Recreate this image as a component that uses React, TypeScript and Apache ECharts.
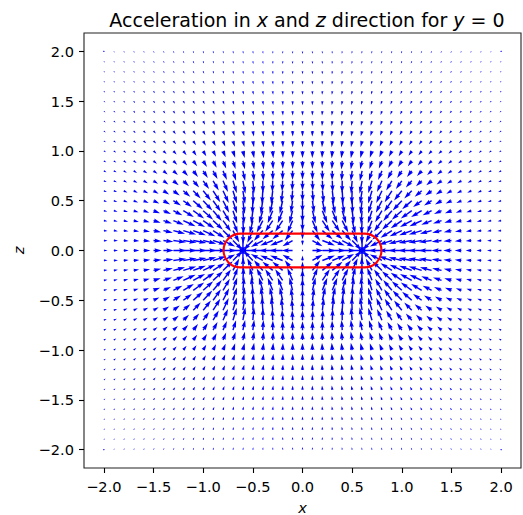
import React, { useEffect, useRef } from "react";
import * as echarts from "echarts";

// grid of sample points (x and z, step 0.1)
const xGrid = [-2.0, -1.9, -1.8, -1.7, -1.6, -1.5, -1.4, -1.3, -1.2, -1.1, -1.0, -0.9, -0.8, -0.7, -0.6, -0.5, -0.4, -0.3, -0.2, -0.1, 0.0, 0.1, 0.2, 0.3, 0.4, 0.5, 0.6, 0.7, 0.8, 0.9, 1.0, 1.1, 1.2, 1.3, 1.4, 1.5, 1.6, 1.7, 1.8, 1.9, 2.0];
const zGrid = [-2.0, -1.9, -1.8, -1.7, -1.6, -1.5, -1.4, -1.3, -1.2, -1.1, -1.0, -0.9, -0.8, -0.7, -0.6, -0.5, -0.4, -0.3, -0.2, -0.1, 0.0, 0.1, 0.2, 0.3, 0.4, 0.5, 0.6, 0.7, 0.8, 0.9, 1.0, 1.1, 1.2, 1.3, 1.4, 1.5, 1.6, 1.7, 1.8, 1.9, 2.0];

// attracting point masses (the two star centres)
const massX = [-0.6, 0.6];
const massZ = [0.0, 0.0];
const massGM = [1.0, 1.0];
const accelCap = 2.4; // magnitudes above this are drawn with the same length

// body outline (capsule): left, top, right, bottom
const capsule = [-0.795, 0.17, 0.795, -0.17];

const tickValues = [-2.0, -1.5, -1.0, -0.5, 0.0, 0.5, 1.0, 1.5, 2.0];

const FONT = "DejaVu Sans";

function buildField(): number[][] {
  const out: number[][] = [];
  for (const z of zGrid) {
    for (const x of xGrid) {
      let ax = 0;
      let az = 0;
      let singular = false;
      for (let k = 0; k < massX.length; k++) {
        const dx = massX[k] - x;
        const dz = massZ[k] - z;
        const r2 = dx * dx + dz * dz;
        if (r2 < 1e-12) {
          singular = true;
          break;
        }
        const r3 = Math.pow(r2, 1.5);
        ax += (massGM[k] * dx) / r3;
        az += (massGM[k] * dz) / r3;
      }
      if (singular) continue;
      out.push([x, z, ax, az]);
    }
  }
  return out;
}

const fmt = (v: number) => {
  const s = Math.abs(v) < 1e-9 ? "0.0" : v.toFixed(1);
  return s.replace("-", "\u2212");
};

export default function App() {
  const ref = useRef<HTMLDivElement>(null);
  useEffect(() => {
    if (!ref.current) return;
    const chart = echarts.init(ref.current, null, { renderer: "svg" });
    const field = buildField();
    const pxPerAccel = 5.6;
    const w = 1.45; // shaft width px
    const hl = 5, hal = 4.5, hw = 3;

    const arrowItem = (params: any, api: any) => {
      const x = api.value(0);
      const z = api.value(1);
      const ax = api.value(2);
      const az = api.value(3);
      const p = api.coord([x, z]);
      const mag = Math.hypot(ax, az);
      const Lpx = Math.min(mag, accelCap) * pxPerAccel;
      const L = Lpx / w;
      let X: number[];
      let Y: number[];
      if (L < 1) {
        X = [];
        Y = [];
        for (let i = 0; i < 6; i++) {
          const th = (i * Math.PI) / 3;
          X.push(Math.cos(th) * 0.5);
          Y.push(Math.sin(th) * 0.5);
        }
      } else if (L < hl) {
        const s = L / hl;
        const bx = [0, hl - hal, 0, hl, 0, hl - hal, 0];
        const by = [0.5, 0.5, hw / 2, 0, -hw / 2, -0.5, -0.5];
        X = bx.map((v) => v * s);
        Y = by.map((v) => v * s);
      } else {
        X = [0, L - hal, L - hl, L, L - hl, L - hal, 0];
        Y = [0.5, 0.5, hw / 2, 0, -hw / 2, -0.5, -0.5];
      }
      const ang = Math.atan2(-az, ax);
      const c = Math.cos(ang);
      const s2 = Math.sin(ang);
      const pts = X.map((xx, i) => {
        const yy = Y[i];
        return [p[0] + (xx * c - yy * s2) * w, p[1] + (xx * s2 + yy * c) * w];
      });
      return {
        type: "polygon",
        shape: { points: pts },
        style: { fill: "#0000ff", stroke: "none" },
      };
    };

    const capsuleItem = (params: any, api: any) => {
      const p1 = api.coord([api.value(0), api.value(1)]);
      const p2 = api.coord([api.value(2), api.value(3)]);
      const h = p2[1] - p1[1];
      return {
        type: "rect",
        shape: { x: p1[0], y: p1[1], width: p2[0] - p1[0], height: h, r: h / 2 },
        style: { fill: "none", stroke: "#ff0000", lineWidth: 2.1 },
      };
    };

    const tickStyle = {
      show: true,
      customValues: tickValues,
      length: 5,
      lineStyle: { color: "#000", width: 1.1 },
    };
    const labelStyle = {
      customValues: tickValues,
      formatter: fmt,
      fontFamily: FONT,
      fontSize: 14.6,
      color: "#000",
    };
    const nameStyle = {
      fontFamily: FONT,
      fontStyle: "italic" as const,
      fontSize: 14.6,
      color: "#000",
    };

    chart.setOption({
      animation: false,
      title: {
        text: "Acceleration in {i|x} and {i|z} direction for {i|y} = 0",
        left: 302,
        textAlign: "center",
        top: 5,
        textStyle: {
          fontFamily: FONT,
          fontSize: 19,
          fontWeight: "normal",
          color: "#000",
          rich: {
            i: { fontFamily: FONT, fontStyle: "italic", fontSize: 19, color: "#000" },
          },
        },
      },
      grid: {
        left: 84,
        top: 33,
        right: 2,
        bottom: 47,
        containLabel: false,
        outerBoundsMode: "none",
        show: true,
        borderColor: "#222",
        borderWidth: 1.1,
        backgroundColor: "transparent",
      },
      xAxis: {
        type: "value",
        min: -2.2,
        max: 2.2,
        splitLine: { show: false },
        axisLine: { show: false, onZero: false },
        axisTick: tickStyle,
        axisLabel: { ...labelStyle, margin: 11 },
        name: "x",
        nameLocation: "middle",
        nameGap: 32,
        nameTextStyle: nameStyle,
      },
      yAxis: {
        type: "value",
        min: -2.185,
        max: 2.185,
        splitLine: { show: false },
        axisLine: { show: false, onZero: false },
        axisTick: tickStyle,
        axisLabel: { ...labelStyle, margin: 10 },
        name: "z",
        nameLocation: "middle",
        nameGap: 58,
        nameTextStyle: nameStyle,
      },
      series: [
        {
          type: "custom",
          renderItem: arrowItem,
          data: field,
          clip: true,
          silent: true,
          z: 2,
        },
        {
          type: "custom",
          renderItem: capsuleItem,
          data: [capsule],
          silent: true,
          z: 3,
        },
      ],
    });
    return () => chart.dispose();
  }, []);
  return (
    <div
      ref={ref}
      style={{ position: "fixed", left: 0, top: 0, width: 523, height: 515, background: "#fff" }}
    />
  );
}
